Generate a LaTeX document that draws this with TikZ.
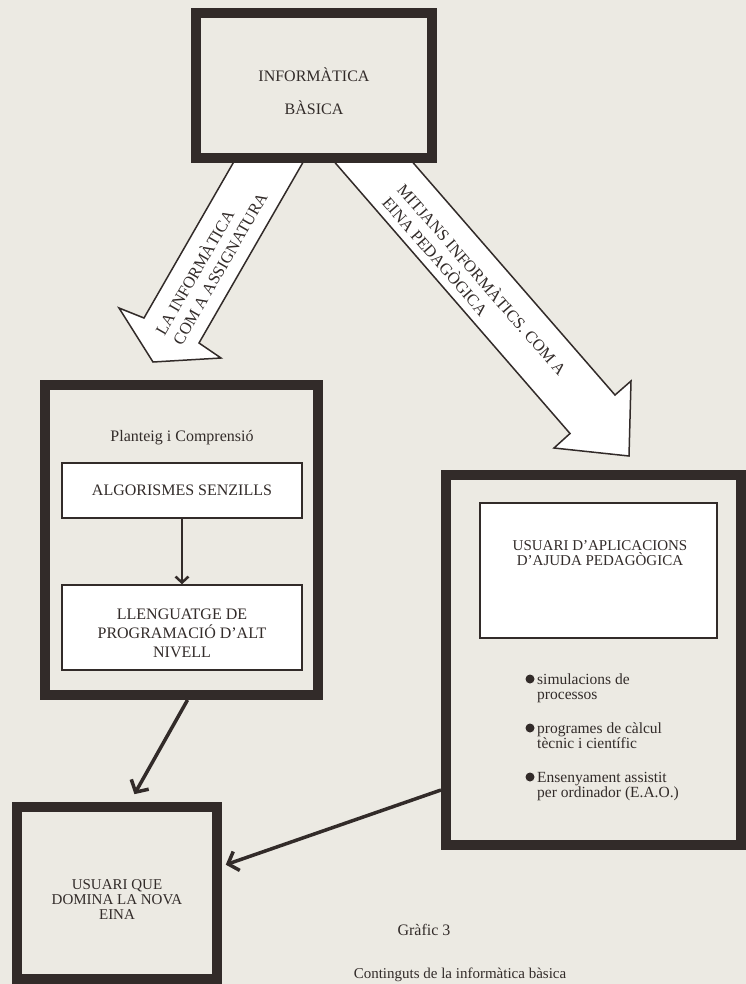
\documentclass[tikz,border=0pt]{standalone}
\usepackage{fontspec}
\setmainfont{Liberation Serif}
\usepackage{tikz}
\usetikzlibrary{positioning}
\usetikzlibrary{arrows.meta,calc}

\definecolor{paper}{RGB}{236,234,227}
\definecolor{ink}{RGB}{50,43,41}

\tikzset{
  bigbox/.style={draw=ink, line width=10pt, inner sep=0pt},
  smallbox/.style={draw=ink, line width=1.5pt, fill=white, inner sep=0pt, text=ink, align=center, font=\fontsize{16}{19}\selectfont},
  boxtext/.style={text=ink, align=center, inner sep=0pt, font=\fontsize{16}{19}\selectfont},
  bullettext/.style={text=ink, align=left, inner sep=0pt, font=\fontsize{15.5}{15}\selectfont},
  arrowtext/.style={text=ink, align=left, inner sep=0pt, font=\fontsize{16.5}{20}\selectfont},
  blockarrow/.style={draw=ink, fill=white, line width=1.5pt, line join=miter},
  conn/.style={draw=ink, line width=3.5pt, -{Straight Barb[length=9pt,width=20pt]}},
  inconn/.style={draw=ink, line width=2.5pt, -{Straight Barb[length=6pt,width=13pt]}}
}

\begin{document}
\begin{tikzpicture}[x=1pt,y=-1pt]

  \fill[paper] (0,0) rectangle (746,984);
  \useasboundingbox (0,0) rectangle (746,984);

  %block arrows
  \draw[blockarrow] (236,158) -- (144,318) -- (119,308) -- (153,362) -- (221,358) -- (199,343) -- (305.5,158) -- cycle;
  \draw[blockarrow] (331,158) -- (570,433.5) -- (554,448) -- (629,456) -- (631,381) -- (615,395) -- (409,158) -- cycle;

  \node[arrowtext, rotate=60, anchor=west] (asstxt) at (167,338) {LA INFORMÀTICA\\COM A ASSIGNATURA};
  \node[arrowtext, rotate=-49, anchor=west] (eintxt) at (394,192) {MITJANS INFORMÀTICS. COM A\\EINA PEDAGÒGICA};

  %top box
  \node[bigbox, minimum width=236pt, minimum height=145pt] (basica) at (314,85.5) {};
  \node[boxtext] (basicatxt) at (314,91.5) {INFORMÀTICA\\[14pt]BÀSICA};

  %left box
  \node[bigbox, minimum width=273pt, minimum height=310pt] (plant) at (181.5,540) {};
  \node[boxtext] (planttxt) at (182,438) {Planteig i Comprensió};
  \node[smallbox, minimum width=240pt, minimum height=55pt] (algo) at (182,490.5) {ALGORISMES SENZILLS};
  \node[smallbox, minimum width=240pt, minimum height=85pt] (lleng) at (182,627.5) {};
  \node[boxtext] (llengtxt) at (182,633) {LLENGUATGE DE\\PROGRAMACIÓ D'ALT\\NIVELL};
  \draw[inconn] (algo.south) -- (lleng.north);

  %right box
  \node[bigbox, minimum width=295pt, minimum height=370pt] (usuari) at (593.5,660) {};
  \node[smallbox, minimum width=237pt, minimum height=135pt] (aplic) at (598.5,570.5) {};
  \node[boxtext, font=\fontsize{15}{15}\selectfont] (aplictxt) at (600,553.5) {USUARI D'APLICACIONS\\D'AJUDA PEDAGÒGICA};

  \foreach \y/\txt/\name in {674/{simulacions de\\processos}/sim, 723/{programes de càlcul\\tècnic i científic}/calc, 772/{Ensenyament assistit\\per ordinador (E.A.O.)}/eao}{
      \fill[ink] (530,\y+5) circle[radius=4.5pt];
      \node[bullettext, anchor=north west] (\name) at (537,\y) {\txt};
  }

  %bottom box
  \node[bigbox, minimum width=200pt, minimum height=172pt] (domina) at (117,893) {};
  \node[boxtext, font=\fontsize{15}{15}\selectfont] (dominatxt) at (117,900) {USUARI QUE\\DOMINA LA NOVA\\EINA};

  \draw[conn, shorten >=9pt] ([xshift=6pt]plant.south) -- ([xshift=13pt]domina.north);
  \draw[conn, shorten >=4pt] ($(usuari.south west)+(0,-60)$) -- ($(domina.east)+(0,-27)$);

  %caption
  \node[boxtext] (grafic) at (424,930) {Gràfic 3};
  \node[boxtext, font=\fontsize{15}{17}\selectfont] (contin) at (460,975) {Continguts de la informàtica bàsica};

\end{tikzpicture}
\end{document}
